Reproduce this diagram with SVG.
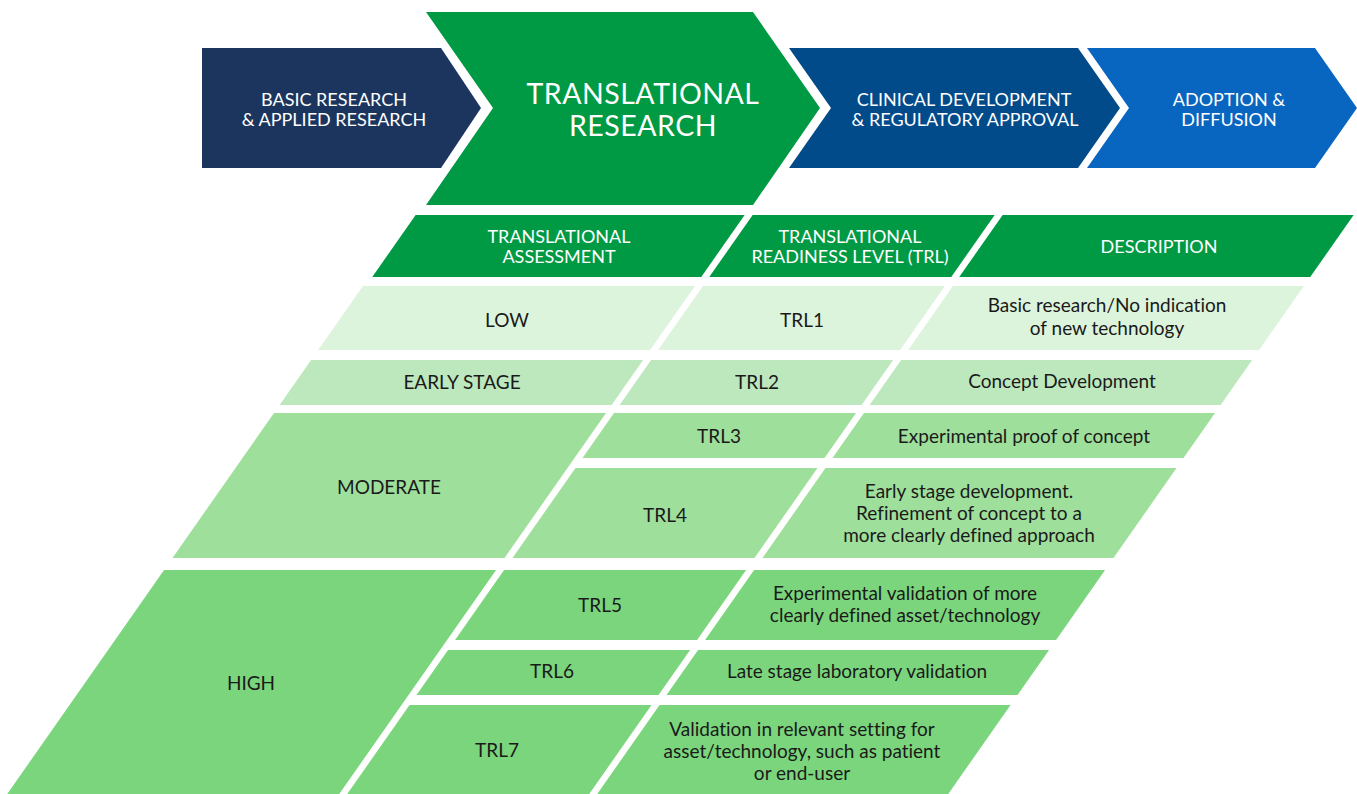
<svg xmlns="http://www.w3.org/2000/svg" width="1357" height="794" viewBox="0 0 1357 794">
<style>
text{font-variant-ligatures:none}
.wt{fill:#ffffff;font-family:Lato,"Liberation Sans",sans-serif;text-anchor:middle}
.ch{font-size:18px}
.big{font-size:28.5px;letter-spacing:0.5px}
.hd{font-size:18px}
.tx{fill:#1a1a1a;font-family:Lato,"Liberation Sans",sans-serif;font-size:19px;text-anchor:middle}
.hdr{fill:#009a44}
.c1{fill:#ddf4dc}
.c2{fill:#bde8bd}
.c3{fill:#9fdf9c}
.c4{fill:#7bd57c}
</style>
<defs>
<clipPath id="pg"><rect x="0" y="0" width="1357" height="794"/></clipPath>
</defs>
<g id="chevrons">
<g id="basic">
<polygon points="202,48 441,48 481,108 441,168 202,168" fill="#1c355e"/>
<text class="wt ch" x="334" y="106">BASIC RESEARCH</text>
<text class="wt ch" x="334" y="126">&amp; APPLIED RESEARCH</text>
</g>
<g id="translational">
<polygon points="426,12 753,12 820,108 753,205 426,205 493,108" fill="#009a44"/>
<text class="wt big" x="643" y="104">TRANSLATIONAL</text>
<text class="wt big" x="643" y="136">RESEARCH</text>
</g>
<g id="clinical">
<polygon points="789,48 1078,48 1120,108 1078,168 789,168 831,108" fill="#024b8b"/>
<text class="wt ch" x="964" y="106">CLINICAL DEVELOPMENT</text>
<text class="wt ch" x="965" y="126">&amp; REGULATORY APPROVAL</text>
</g>
<g id="adoption">
<polygon points="1087,48 1315,48 1357,108 1315,168 1087,168 1129,108" fill="#0866c0"/>
<text class="wt ch" x="1229" y="106">ADOPTION &amp;</text>
<text class="wt ch" x="1229" y="126">DIFFUSION</text>
</g>
</g>
<g id="connectors"></g>
<g id="table" clip-path="url(#pg)">
<g id="hdr-assessment">
<rect class="hdr" transform="translate(200.2 0) skewX(-35)" x="366" y="215" width="329" height="62"/>
<text class="wt hd" x="559" y="243">TRANSLATIONAL</text>
<text class="wt hd" x="559" y="263">ASSESSMENT</text>
</g>
<g id="hdr-trl">
<rect class="hdr" transform="translate(200.2 0) skewX(-35)" x="703" y="215" width="242" height="62"/>
<text class="wt hd" x="850" y="243">TRANSLATIONAL</text>
<text class="wt hd" x="850" y="263">READINESS LEVEL (TRL)</text>
</g>
<g id="hdr-desc">
<rect class="hdr" transform="translate(200.2 0) skewX(-35)" x="953" y="215" width="351" height="62"/>
<text class="wt hd" x="1159" y="253">DESCRIPTION</text>
</g>

<g id="low">
<rect class="c1" transform="translate(200.2 0) skewX(-35)" x="363" y="286" width="332" height="64"/>
<text class="tx" x="507" y="327">LOW</text>
</g>
<g id="trl1">
<rect class="c1" transform="translate(200.2 0) skewX(-35)" x="703" y="286" width="242" height="64"/>
<text class="tx" x="802" y="327">TRL1</text>
</g>
<g id="desc1">
<rect class="c1" transform="translate(200.2 0) skewX(-35)" x="953" y="286" width="351" height="64"/>
<text class="tx" x="1107" y="312">Basic research/No indication</text>
<text class="tx" x="1107" y="335">of new technology</text>
</g>

<g id="early">
<rect class="c2" transform="translate(200.2 0) skewX(-35)" x="363" y="360" width="332" height="45"/>
<text class="tx" x="462" y="389">EARLY STAGE</text>
</g>
<g id="trl2">
<rect class="c2" transform="translate(200.2 0) skewX(-35)" x="703" y="360" width="242" height="45"/>
<text class="tx" x="757" y="389">TRL2</text>
</g>
<g id="desc2">
<rect class="c2" transform="translate(200.2 0) skewX(-35)" x="953" y="360" width="351" height="45"/>
<text class="tx" x="1062" y="388">Concept Development</text>
</g>

<g id="moderate">
<rect class="c3" transform="translate(200.2 0) skewX(-35)" x="363" y="413" width="332" height="145"/>
<text class="tx" x="389" y="494">MODERATE</text>
</g>
<g id="trl3">
<rect class="c3" transform="translate(200.2 0) skewX(-35)" x="703" y="413" width="242" height="45"/>
<text class="tx" x="719" y="443">TRL3</text>
</g>
<g id="desc3">
<rect class="c3" transform="translate(200.2 0) skewX(-35)" x="953" y="413" width="351" height="45"/>
<text class="tx" x="1024" y="443">Experimental proof of concept</text>
</g>
<g id="trl4">
<rect class="c3" transform="translate(200.2 0) skewX(-35)" x="703" y="468" width="242" height="90"/>
<text class="tx" x="665" y="522">TRL4</text>
</g>
<g id="desc4">
<rect class="c3" transform="translate(200.2 0) skewX(-35)" x="953" y="468" width="351" height="90"/>
<text class="tx" x="969" y="498">Early stage development.</text>
<text class="tx" x="969" y="520">Refinement of concept to a</text>
<text class="tx" x="969" y="542">more clearly defined approach</text>
</g>

<g id="high">
<rect class="c4" transform="translate(200.2 0) skewX(-35)" x="363" y="570" width="332" height="240"/>
<text class="tx" x="251" y="690">HIGH</text>
</g>
<g id="trl5">
<rect class="c4" transform="translate(200.2 0) skewX(-35)" x="703" y="570" width="242" height="70"/>
<text class="tx" x="600" y="612">TRL5</text>
</g>
<g id="desc5">
<rect class="c4" transform="translate(200.2 0) skewX(-35)" x="953" y="570" width="351" height="70"/>
<text class="tx" x="905" y="600">Experimental validation of more</text>
<text class="tx" x="905" y="622">clearly defined asset/technology</text>
</g>
<g id="trl6">
<rect class="c4" transform="translate(200.2 0) skewX(-35)" x="703" y="650" width="242" height="45"/>
<text class="tx" x="552" y="678">TRL6</text>
</g>
<g id="desc6">
<rect class="c4" transform="translate(200.2 0) skewX(-35)" x="953" y="650" width="351" height="45"/>
<text class="tx" x="857" y="678">Late stage laboratory validation</text>
</g>
<g id="trl7">
<rect class="c4" transform="translate(200.2 0) skewX(-35)" x="703" y="705" width="242" height="105"/>
<text class="tx" x="497" y="757">TRL7</text>
</g>
<g id="desc7">
<rect class="c4" transform="translate(200.2 0) skewX(-35)" x="953" y="705" width="351" height="105"/>
<text class="tx" x="802" y="736">Validation in relevant setting for</text>
<text class="tx" x="802" y="758">asset/technology, such as patient</text>
<text class="tx" x="802" y="780">or end-user</text>
</g>
</g>
</svg>
